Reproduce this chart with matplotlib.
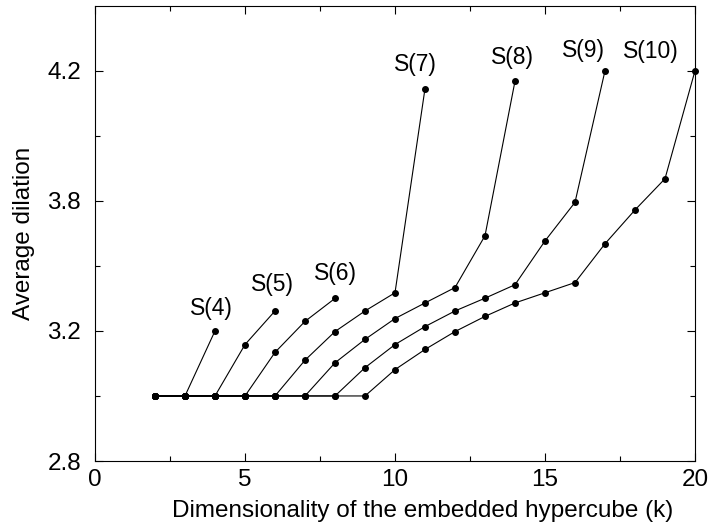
import numpy as np
import matplotlib
matplotlib.use("Agg")
import matplotlib.pyplot as plt
from matplotlib.ticker import FixedLocator

plt.rcParams['font.family'] = ['Liberation Sans', 'DejaVu Sans']

# dimensionality k for each graph S(n); the first points all sit at 3.0
k4 = [2, 3, 4]
d4 = [3.0, 3.0, 3.2]
k5 = [2, 3, 4, 5, 6]
d5 = [3.0, 3.0, 3.0, 3.158, 3.292]
k6 = [2, 3, 4, 5, 6, 7, 8]
d6 = [3.0, 3.0, 3.0, 3.0, 3.134, 3.244, 3.35]
k7 = [2, 3, 4, 5, 6, 7, 8, 9, 10, 11]
d7 = [3.0, 3.0, 3.0, 3.0, 3.0, 3.11, 3.198, 3.292, 3.376, 4.145]
k8 = [2, 3, 4, 5, 6, 7, 8, 9, 10, 11, 12, 13, 14]
d8 = [3.0, 3.0, 3.0, 3.0, 3.0, 3.0, 3.102, 3.174, 3.257, 3.329, 3.40, 3.639, 4.168]
k9 = [2, 3, 4, 5, 6, 7, 8, 9, 10, 11, 12, 13, 14, 15, 16, 17]
d9 = [3.0, 3.0, 3.0, 3.0, 3.0, 3.0, 3.0, 3.087, 3.158, 3.22, 3.292, 3.351,
      3.413, 3.615, 3.793, 4.2]
k10 = [2, 3, 4, 5, 6, 7, 8, 9, 10, 11, 12, 13, 14, 15, 16, 17, 18, 19, 20]
d10 = [3.0, 3.0, 3.0, 3.0, 3.0, 3.0, 3.0, 3.0, 3.081, 3.143, 3.198, 3.267,
       3.329, 3.376, 3.423, 3.602, 3.758, 3.868, 4.2]

series = [(k4, d4), (k5, d5), (k6, d6), (k7, d7), (k8, d8), (k9, d9), (k10, d10)]
names = ["S(4)", "S(5)", "S(6)", "S(7)", "S(8)", "S(9)", "S(10)"]
label_pos = [(3.87, 3.305), (5.9, 3.413), (8.02, 3.463), (10.67, 4.22),
             (13.92, 4.24), (16.27, 4.261), (18.52, 4.258)]

yticks = [2.8, 3.2, 3.8, 4.2]
ytick_labels = ["2.8", "3.2", "3.8", "4.2"]
xticks = [0, 5, 10, 15, 20]

# the y ticks are evenly spaced although the values are not
ybreaks = [2.8, 3.2, 3.8, 4.2, 4.6]
ypos = [0, 1, 2, 3, 4]

def fwd(v):
    return np.interp(v, ybreaks, ypos)

def inv(p):
    return np.interp(p, ypos, ybreaks)

fig = plt.figure(figsize=(7.21, 5.27), dpi=100)
ax = fig.add_axes([95 / 721, 66 / 527, 600 / 721, 455.3 / 527])
ax.set_yscale('function', functions=(fwd, inv))

for (k, d), name, (tx, ty) in zip(series, names, label_pos):
    ax.plot(k, d, color='black', lw=0.8, marker='o', ms=4, clip_on=False)
    ax.text(tx, ty, name, fontsize=16.5, ha='center', va='center')

ax.set_xlim(0, 20)
ax.set_ylim(2.8, 4.4)
ax.xaxis.set_major_locator(FixedLocator(xticks))
ax.xaxis.set_minor_locator(FixedLocator([2.5, 7.5, 12.5, 17.5]))
ax.yaxis.set_major_locator(FixedLocator(yticks))
ax.yaxis.set_minor_locator(FixedLocator([3.0, 3.5, 4.0]))
ax.set_yticklabels(ytick_labels)
ax.yaxis.set_minor_formatter(plt.NullFormatter())
ax.tick_params(which='both', direction='in', top=True, right=True,
               labelsize=17.5, width=0.8)
ax.tick_params(which='major', length=6)
ax.tick_params(axis='x', which='major', pad=6)
ax.tick_params(axis='y', which='major', pad=10)
ax.tick_params(which='minor', length=3.5)
for s in ax.spines.values():
    s.set_linewidth(0.8)

ax.set_xlabel("Dimensionality of the embedded hypercube (k)", fontsize=17.5)
ax.xaxis.set_label_coords(0.546, -0.085)
ax.set_ylabel("Average dilation", fontsize=17.5, labelpad=9)

fig.savefig("out.png", dpi=100)
